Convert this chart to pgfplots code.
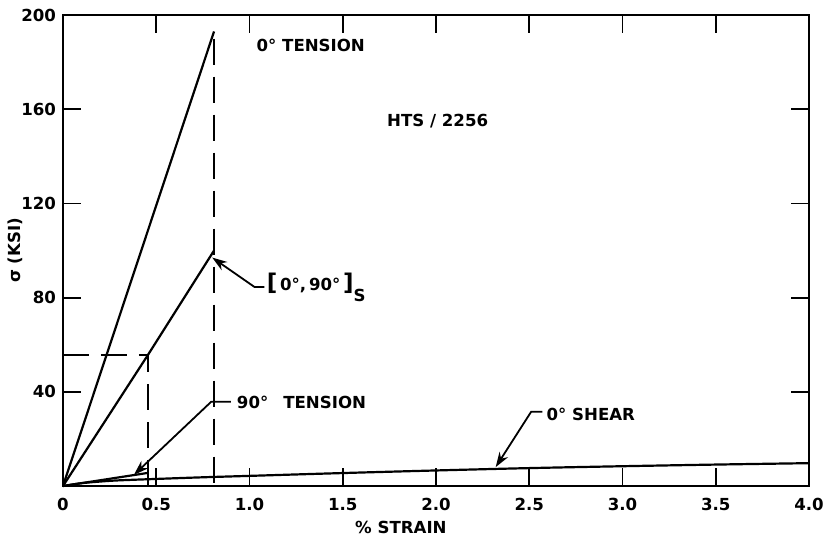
\documentclass[border=0pt]{standalone}
\usepackage{fontspec}
\setmainfont{DejaVu Sans}
\usepackage{pgfplots}
\pgfplotsset{compat=1.18}
\usetikzlibrary{arrows.meta}

\newcommand{\lbl}{\bfseries\fontsize{8.3}{9.5}\selectfont}

\begin{document}
\begin{tikzpicture}
\useasboundingbox (-31.5pt,-28pt) rectangle (381pt,243pt);
\begin{axis}[
  scale only axis, width=373pt, height=235.5pt,
  xmin=0, xmax=4, ymin=0, ymax=200,
  clip=false,
  axis line style={line width=1.3pt},
  tick align=inside, major tick length=9pt,
  tick style={line width=0.9pt, black},
  xtick={0,0.5,...,4},
  xticklabels={0,0.5,1.0,1.5,2.0,2.5,3.0,3.5,4.0},
  ytick={40,80,120,160,200},
  ticklabel style={font=\lbl},
  xticklabel style={yshift=-2.5pt},
  /pgf/number format/assume math mode=true,
  cycle list={{black, no marks, line width=1.1pt}},
]
% 0 deg tension
\addplot[black, no marks, line width=1.1pt] coordinates {(0,0) (0.81,193)};
% [0/90]s laminate
\addplot[black, no marks, line width=1.1pt] coordinates {(0,0) (0.455,55.6) (0.81,100)};
% 90 deg tension
\addplot[black, no marks, line width=1.1pt] coordinates {(0,0) (0.45,5.5)};
% 0 deg shear
\addplot[black, no marks, line width=1.1pt, smooth] coordinates {
  (0,0) (0.1,1.2) (0.2,1.9) (0.3,2.4) (0.5,3.0) (0.75,3.7) (1.0,4.3)
  (1.5,5.5) (2.0,6.6) (2.5,7.6) (3.0,8.4) (3.5,9.1) (4.0,9.7)};
% failure strain markers
\addplot[black, no marks, line width=0.9pt, dash pattern=on 13pt off 6pt] coordinates {(0,55.6) (0.455,55.6) (0.455,0)};
\addplot[black, no marks, line width=0.9pt, dash pattern=on 13pt off 6pt] coordinates {(0.81,190) (0.81,0)};

% annotations
\node[font=\lbl, anchor=west] at (axis cs:1.0,187) {0° TENSION};
\node[font=\lbl, anchor=west] at (axis cs:1.70,155) {HTS / 2256};

\draw[line width=0.9pt, -{Stealth[length=7.5pt,width=5pt]}] (axis cs:1.08,84.5) -- (axis cs:1.027,84.5) -- (axis cs:0.80,97);
\node[font=\lbl, anchor=west, inner sep=1pt] at (axis cs:1.08,84.5)
  {{\fontsize{11.5}{12}\selectfont[}\,0°,\,90°\,{\fontsize{11.5}{12}\selectfont]}\raisebox{-1.2ex}{S}};

\draw[line width=0.9pt, -{Stealth[length=7.5pt,width=5pt]}] (axis cs:0.90,35.8) -- (axis cs:0.795,35.8) -- (axis cs:0.38,4.7);
\node[font=\lbl, anchor=west, inner sep=1pt] at (axis cs:0.92,35.6) {90°\hspace{0.9em}TENSION};

\draw[line width=0.9pt, -{Stealth[length=7.5pt,width=5pt]}] (axis cs:2.57,31.5) -- (axis cs:2.51,31.5) -- (axis cs:2.32,8.0);
\node[font=\lbl, anchor=west, inner sep=1pt] at (axis cs:2.58,30.4) {0° SHEAR};

% axis titles
\node[font=\lbl] at ([yshift=-20.5pt]rel axis cs:0.453,0) {\% STRAIN};
\node[font=\lbl, rotate=90] at ([xshift=-24pt]rel axis cs:0,0.5) {σ (KSI)};
\end{axis}
\end{tikzpicture}
\end{document}
